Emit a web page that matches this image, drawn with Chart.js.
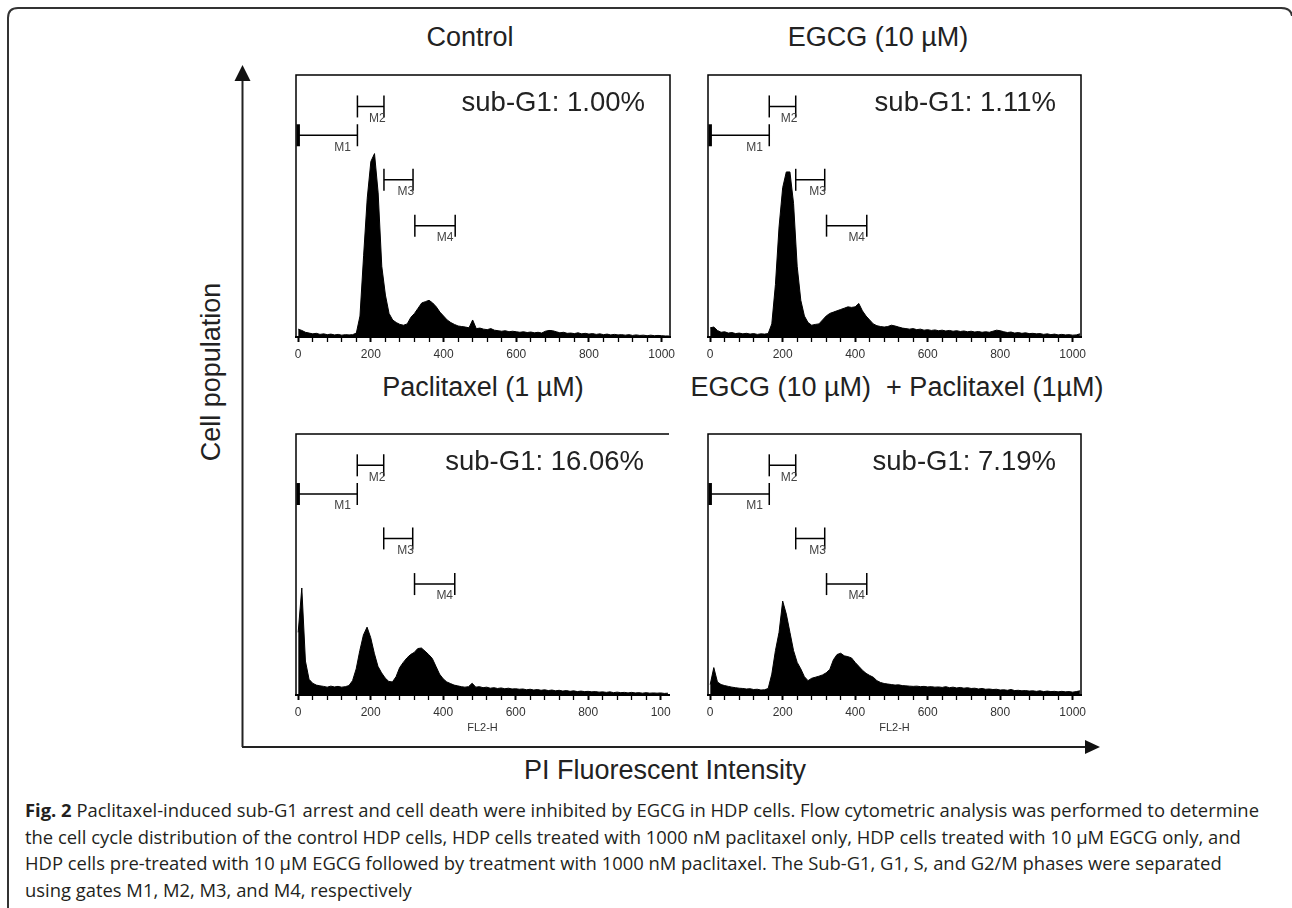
<!DOCTYPE html>
<html>
<head>
<meta charset="utf-8">
<script src="https://cdn.jsdelivr.net/npm/chart.js@4.4.1/dist/chart.umd.min.js"></script>
<style>
  body { margin: 0; background: #fff; width: 1292px; height: 908px; overflow: hidden; position: relative;
         font-family: "Liberation Sans", Arial, sans-serif; color: #222; }
  canvas { position: absolute; }
  svg { position: absolute; left: 0; top: 0; }
  .lbl { position: absolute; white-space: nowrap; font-size: 27px; line-height: 1; transform: translate(-50%, -50%); }
  .rot { transform: translate(-50%, -50%) rotate(-90deg); }
  #caption { position: absolute; left: 25px; top: 797px; font-family: "Open Sans", sans-serif; font-size: 18.4px;
             line-height: 26.7px; color: #231f20; white-space: nowrap; }
  #caption b { font-weight: 700; }
</style>
</head>
<body>

<svg width="1292" height="908">
  <path d="M8 908 L8 18 Q8 8 18 8 L1281 8 Q1291 8 1292 16" fill="none" stroke="#333" stroke-width="2"/>
  <line x1="242.5" y1="747" x2="242.5" y2="80" stroke="#222" stroke-width="2"/>
  <polygon points="234.5,81 250.5,81 242.5,65" fill="#111"/>
  <line x1="242" y1="747" x2="1086" y2="747" stroke="#222" stroke-width="2"/>
  <polygon points="1085,740 1085,754 1100,747" fill="#111"/>
</svg>

<div class="lbl" style="left:470px;top:37px">Control</div>
<div class="lbl" style="left:878px;top:37px">EGCG (10 µM)</div>
<div class="lbl" style="left:483px;top:387px">Paclitaxel (1 µM)</div>
<div class="lbl" style="left:897px;top:387px">EGCG (10 µM) &nbsp;+ Paclitaxel (1µM)</div>
<div class="lbl rot" style="left:211px;top:372px">Cell population</div>
<div class="lbl" style="left:665px;top:770px">PI Fluorescent Intensity</div>

<canvas id="c1" width="434" height="314" style="left:266px;top:63px"></canvas>
<canvas id="c2" width="433" height="314" style="left:678px;top:63px"></canvas>
<canvas id="c3" width="433" height="313" style="left:266px;top:422px"></canvas>
<canvas id="c4" width="433" height="313" style="left:678px;top:422px"></canvas>

<div id="caption"><b>Fig. 2</b> Paclitaxel-induced sub-G1 arrest and cell death were inhibited by EGCG in HDP cells. Flow cytometric analysis was performed to determine<br>the cell cycle distribution of the control HDP cells, HDP cells treated with 1000 nM paclitaxel only, HDP cells treated with 10 µM EGCG only, and<br>HDP cells pre-treated with 10 µM EGCG followed by treatment with 1000 nM paclitaxel. The Sub-G1, G1, S, and G2/M phases were separated<br>using gates M1, M2, M3, and M4, respectively</div>

<script>
// FL2-H channel bins, 10 channels wide, starting at 0
const BIN_WIDTH = 10;

// cell counts per bin, as % of the plot height
const CONTROL = [
  3, 2.5, 1.8, 1.5, 1.2, 1.4, 1.0, 1.2, 0.9, 1.1,
  0.8, 1.0, 0.7, 0.9, 0.8, 0.9, 1.5, 8, 31, 53,
  67, 70, 55, 27, 16, 9, 6.5, 5.5, 4.8, 4.5,
  5, 7.5, 9, 11, 13, 13.5, 14, 13, 11.5, 9.5,
  8, 6.5, 5.5, 4.8, 4.2, 4, 3.8, 3.5, 6.5, 3.2,
  3.4, 3, 2.8, 3.2, 2.6, 2.4, 2.2, 2.4, 2.0, 2.2,
  2.0, 1.8, 2.0, 1.7, 1.9, 1.6, 1.8, 1.5, 2.2, 2.5,
  2.4, 2.0, 1.6, 1.8, 1.4, 1.5, 1.3, 1.6, 1.2, 1.4,
  1.1, 1.3, 1.0, 1.2, 0.9, 1.1, 0.8, 1.0, 0.8, 0.9,
  0.7, 0.9, 0.6, 0.8, 0.6, 0.7, 0.5, 0.7, 0.5, 0.6,
  0.5, 0.4, 0.4
];
const EGCG = [
  3.5, 3.8, 2.5, 1.8, 2.0, 1.5, 1.7, 1.3, 1.5, 1.2,
  1.4, 1.1, 1.3, 1.0, 1.2, 1.1, 1.3, 5, 20, 42,
  57, 63, 63, 51, 27, 14, 8, 5.5, 4.5, 4.8,
  5, 6.5, 8, 9, 9.5, 10, 10.5, 11, 11.5, 11.3,
  11.5, 12.8, 10, 8, 6.5, 5, 4.3, 4, 3.8, 4,
  4.5, 4.2, 3.8, 3.4, 3.2, 3.0, 3.2, 2.8, 3.0, 2.6,
  2.8, 2.5, 2.7, 2.4, 2.6, 2.3, 2.5, 2.2, 2.4, 2.1,
  2.3, 2.0, 2.2, 1.9, 2.1, 1.8, 2.0, 1.8, 2.2, 2.6,
  2.4, 2.0, 1.7, 1.9, 1.5, 1.7, 1.4, 1.6, 1.3, 1.4,
  1.2, 1.3, 1.0, 1.2, 0.9, 1.1, 0.8, 1.0, 0.8, 0.9,
  0.7, 0.8, 1.2
];
const PACLITAXEL = [
  24, 41, 13, 6, 4.5, 3.8, 3.5, 3.3, 3.0, 3.4,
  3.1, 3.3, 3.0, 3.2, 3.6, 5.5, 10, 17, 23, 26,
  22, 16, 11, 8.5, 6.5, 5.2, 5, 7, 10.5, 12.5,
  14.2, 15.5, 16.3, 17.8, 18, 16.8, 15.5, 14, 11, 8,
  6.2, 5, 4.4, 3.8, 3.5, 3.2, 3.0, 3.2, 4.5, 3.0,
  3.2, 2.8, 3.0, 2.6, 2.8, 2.5, 2.7, 2.4, 2.6, 2.3,
  2.4, 2.2, 2.3, 2.0, 2.2, 1.9, 2.1, 1.8, 2.0, 1.7,
  1.9, 1.6, 1.8, 1.5, 1.7, 1.4, 1.6, 1.3, 1.5, 1.3,
  1.4, 1.2, 1.3, 1.1, 1.2, 1.0, 1.2, 0.9, 1.1, 0.9,
  1.0, 0.8, 1.0, 0.8, 0.9, 0.7, 0.9, 0.7, 0.8, 0.7,
  0.8, 0.6, 0.7
];
const EGCG_PACLITAXEL = [
  4, 10.5, 5, 4, 3.6, 3.3, 3.0, 2.8, 2.6, 2.5,
  2.3, 2.4, 2.1, 2.2, 1.9, 2.0, 2.5, 8, 17, 24,
  36, 31, 24, 17, 12.5, 10, 7, 5.5, 6.4, 6.8,
  7.2, 7.7, 8.5, 9.8, 13.5, 15.5, 16, 15, 14.7, 14.2,
  12.5, 11, 9.5, 8.3, 7.5, 6.8, 5.5, 4.8, 4.4, 4.2,
  4.0, 3.8, 3.9, 3.6, 3.5, 3.4, 3.3, 3.4, 3.2, 3.3,
  3.1, 3.2, 3.0, 3.1, 2.9, 3.2, 2.8, 3.0, 2.7, 2.9,
  2.6, 2.8, 2.5, 2.6, 2.3, 2.5, 2.2, 2.3, 2.1, 2.2,
  1.9, 2.0, 1.8, 2.1, 1.7, 1.8, 1.6, 1.7, 1.5, 1.6,
  1.4, 1.6, 1.3, 1.5, 1.3, 1.4, 1.2, 1.4, 1.2, 1.3,
  1.1, 1.3, 1.6
];

const SUB_G1 = ['1.00%', '1.11%', '16.06%', '7.19%'];

// gates M1..M4 (channel range, height in %)
const GATE_NAMES = ['M1', 'M2', 'M3', 'M4'];
const GATE_START = [0, 163, 236, 321];
const GATE_END = [163, 236, 316, 432];
const GATE_LEVEL = [77, 88, 60, 42.5];

const TICK_VALUES = [0, 40, 80, 120, 160, 200, 240, 280, 320, 360, 400, 440, 480,
  520, 560, 600, 640, 680, 720, 760, 800, 840, 880, 920, 960, 1000];
const MAJOR_TICKS = [0, 200, 400, 600, 800, 1000];
const TICK_LABELS = ['0', '200', '400', '600', '800', '1000'];
const TICK_LABELS_CUT = ['0', '200', '400', '600', '800', '100'];

const FONT = '"Liberation Sans", Arial, sans-serif';

const panelDecor = {
  id: 'panelDecor',
  afterDraw(chart, args, opts) {
    const ctx = chart.ctx;
    const a = chart.chartArea;
    const xs = chart.scales.x, ys = chart.scales.y;
    ctx.save();
    ctx.strokeStyle = '#000';
    ctx.lineWidth = 1.5;
    ctx.beginPath();
    ctx.moveTo(a.left, a.bottom);
    ctx.lineTo(a.left, a.top);
    ctx.lineTo(a.right, a.top);
    if (opts.rightBorder) ctx.lineTo(a.right, a.bottom);
    ctx.stroke();

    // gates
    for (let i = 0; i < GATE_NAMES.length; i++) {
      const x1 = xs.getPixelForValue(GATE_START[i]);
      const x2 = xs.getPixelForValue(GATE_END[i]);
      const y = ys.getPixelForValue(GATE_LEVEL[i]);
      ctx.strokeStyle = '#000';
      ctx.lineWidth = 1.5;
      ctx.beginPath();
      ctx.moveTo(x1, y); ctx.lineTo(x2, y);
      ctx.moveTo(x2, y - 11); ctx.lineTo(x2, y + 11);
      ctx.stroke();
      ctx.lineWidth = i === 0 ? 3.5 : 1.5;
      ctx.beginPath();
      ctx.moveTo(x1, y - 11); ctx.lineTo(x1, y + 11);
      ctx.stroke();
      ctx.fillStyle = '#444';
      ctx.font = '12px ' + FONT;
      ctx.textAlign = 'center';
      ctx.textBaseline = 'middle';
      const lx = xs.getPixelForValue(GATE_END[i] - 0.25 * (GATE_END[i] - GATE_START[i]));
      ctx.fillText(GATE_NAMES[i], lx, y + 12);
    }

    ctx.fillStyle = '#222';
    ctx.font = '27.5px ' + FONT;
    ctx.textAlign = 'right';
    ctx.textBaseline = 'middle';
    ctx.fillText('sub-G1: ' + opts.subG1, a.right - 25, a.top + 28);
    ctx.restore();
  }
};

function drawPanel(id, values, subG1, labels, rightBorder, axisTitle) {
  const points = values.map((v, i) => ({ x: i * BIN_WIDTH, y: v }));
  new Chart(document.getElementById(id), {
    type: 'line',
    data: {
      datasets: [{
        data: points,
        borderColor: '#000',
        borderWidth: 1,
        backgroundColor: '#000',
        fill: 'origin',
        pointRadius: 0,
        tension: 0
      }]
    },
    options: {
      responsive: false,
      animation: false,
      layout: { padding: { left: 30, right: 30, top: 12, bottom: 0 } },
      plugins: {
        legend: { display: false },
        tooltip: { enabled: false },
        panelDecor: { subG1: subG1, rightBorder: rightBorder }
      },
      scales: {
        x: {
          type: 'linear',
          min: -6,
          max: 1023,
          afterBuildTicks: s => { s.ticks = TICK_VALUES.map(v => ({ value: v })); },
          afterFit: s => { s.height = 40; },
          ticks: {
            autoSkip: false,
            maxRotation: 0,
            padding: 5,
            color: '#333',
            font: { family: FONT, size: 12 },
            callback: v => {
              const k = MAJOR_TICKS.indexOf(v);
              return k >= 0 ? labels[k] : '';
            }
          },
          grid: {
            drawOnChartArea: false,
            drawTicks: true,
            tickLength: 5,
            tickColor: '#000',
            tickWidth: c => MAJOR_TICKS.includes(c.tick.value) ? 2 : 1.3
          },
          border: { display: true, color: '#000', width: 2 },
          title: {
            display: !!axisTitle,
            text: axisTitle,
            color: '#333',
            font: { family: FONT, size: 11 },
            padding: 0
          }
        },
        y: { display: false, min: 0, max: 100 }
      }
    },
    plugins: [panelDecor]
  });
}

drawPanel('c1', CONTROL, SUB_G1[0], TICK_LABELS, true, '');
drawPanel('c2', EGCG, SUB_G1[1], TICK_LABELS, true, '');
drawPanel('c3', PACLITAXEL, SUB_G1[2], TICK_LABELS_CUT, false, 'FL2-H');
drawPanel('c4', EGCG_PACLITAXEL, SUB_G1[3], TICK_LABELS, true, 'FL2-H');
</script>
</body>
</html>
